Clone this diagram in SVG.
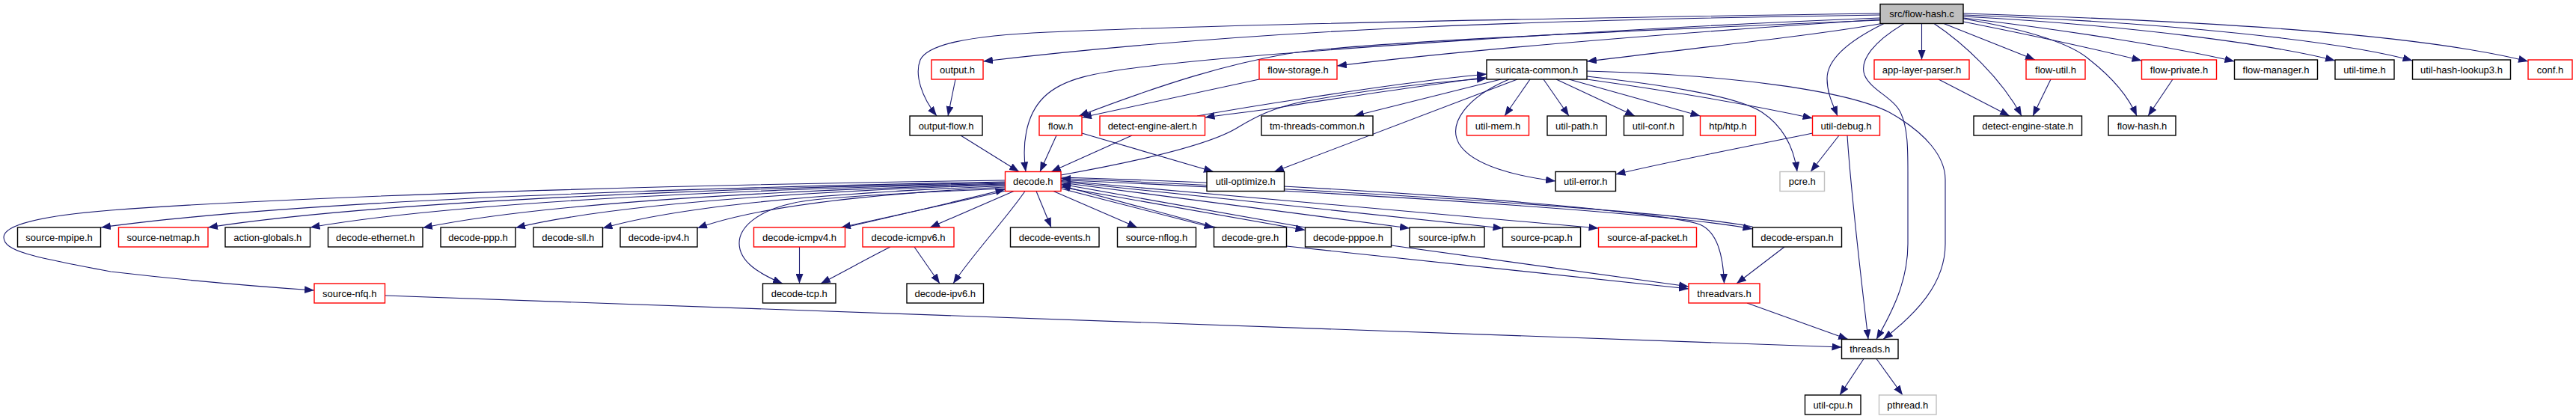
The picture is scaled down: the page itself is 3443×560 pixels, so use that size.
<svg xmlns="http://www.w3.org/2000/svg" width="3443" height="560" viewBox="0 0 3443 560">
<style>
.n rect{fill:#fff;stroke:#000;stroke-width:1.4}
.r rect{stroke:#ff0000}
.g rect{stroke:#bfbfbf}
.root rect{fill:#bfbfbf}
text{font-family:"Liberation Sans",Arial,Helvetica,sans-serif;font-size:13px;text-anchor:middle;fill:#000}
#edges path{fill:none;stroke:#191970;stroke-width:1.1;marker-end:url(#ah)}
</style>
<defs>
<marker id="ah" viewBox="0 0 13 10" refX="13" refY="5" markerWidth="13" markerHeight="10" markerUnits="userSpaceOnUse" orient="auto"><path d="M0,0 L13,5 L0,10 z" fill="#191970"/></marker>
</defs>
<rect width="3443" height="560" fill="#fff"/>
<g id="edges">
<path d="M2513,18 C2100,24 1650,32 1400,43 C1290,48 1240,60 1230,80 C1222,100 1232,130 1252,155"/>
<path d="M2513,20 C2100,26 1700,36 1314,82"/>
<path d="M2513,24 C2150,38 1700,70 1547,87 C1460,97 1420,105 1395,130 C1370,155 1366,195 1371,229.5"/>
<path d="M2513,27 C2150,42 1800,58 1720,72 C1640,86 1560,110 1442,155"/>
<path d="M2513,26 C2300,40 2000,62 1787,88"/>
<path d="M2515,31.5 C2420,48 2260,65 2121,82"/>
<path d="M2518,31.5 C2470,55 2442,80 2442,105 C2442,125 2450,140 2456,155"/>
<path d="M2545,31.5 C2505,55 2485,80 2492,100 C2500,120 2530,130 2540,150 C2550,170 2550,200 2550,230 L2550,326 C2550,375 2530,415 2508,453.5"/>
<path d="M2568.5,31.5 L2568.5,80"/>
<path d="M2585,31.5 C2625,58 2675,105 2702,155"/>
<path d="M2598,31.5 L2720,80"/>
<path d="M2624,29 C2720,48 2810,68 2862.5,81"/>
<path d="M2624,25 C2700,38 2765,55 2793,80 C2825,105 2845,130 2856,155"/>
<path d="M2624,24 C2760,40 2900,62 2986.5,82"/>
<path d="M2624,22 C2850,34 3040,60 3121,81"/>
<path d="M2624,20 C2900,30 3130,55 3224.5,81"/>
<path d="M2624,18 C2950,28 3230,45 3379,82"/>
<path d="M2006,106 L1810,155"/>
<path d="M2045,106 L2011,155"/>
<path d="M2063,106 L2097,155"/>
<path d="M2080,106 L2185,155"/>
<path d="M2097,106 L2272.5,155"/>
<path d="M2121,106 C2220,120 2330,138 2422.5,158"/>
<path d="M2121,102 C2210,112 2320,127 2355,150 C2385,170 2398,200 2402,229.5"/>
<path d="M2121,95 C2320,100 2470,122 2525,150 C2575,178 2600,210 2600,240 L2600,326 C2600,380 2560,420 2517,453.5"/>
<path d="M2017,106 C1960,130 1935,165 1950,192 C1968,222 2030,236 2079,242"/>
<path d="M2028,106 L1703,229.5"/>
<path d="M1987,103 C1880,118 1760,135 1720,142 C1680,149 1640,152 1610.5,157"/>
<path d="M1600,155 C1650,146 1700,138 1740,132 C1830,118 1910,106 1987,99"/>
<path d="M1418,234 C1530,214 1620,192 1655,170 C1680,155 1700,145 1740,136 C1830,120 1910,110 1987,105"/>
<path d="M1683,106 L1446,157"/>
<path d="M1412,181 L1390,229.5"/>
<path d="M1446,178 L1622,229.5"/>
<path d="M1513,181 L1405,229.5"/>
<path d="M1284,181 L1362,229.5"/>
<path d="M1277,106 L1267,155"/>
<path d="M2591,106 L2686,155"/>
<path d="M2741,106 L2717,155"/>
<path d="M2904,106 L2871,155"/>
<path d="M2458,181 L2420,229.5"/>
<path d="M2422.5,178 C2330,197 2230,216 2159.5,233"/>
<path d="M2469,181 C2474,260 2486,360 2497,453.5"/>
<path d="M2335,405 L2470,453.5"/>
<path d="M514.5,395 L2461.5,464"/>
<path d="M2491,479.5 L2459,528"/>
<path d="M2508,479.5 L2543,528"/>
<path d="M2385,330 L2321,379"/>
<path d="M1719.5,329 L2257,386"/>
<path d="M1859.5,328 L2257,383"/>
<path d="M1190,330 C1160,345 1130,362 1097,379"/>
<path d="M1222,330 L1256,379"/>
<path d="M1068.5,330 L1068.5,379"/>
<path d="M1343.5,241 C900,247 400,262 148,281 C60,288 5,300 5,317 C5,335 40,343 148,363 C260,376 360,384 420,388"/>
<path d="M1343.5,243 C860.1,252.2 376.7,270.5 135,304"/>
<path d="M1343.5,244 C917.3,253 491.1,271 278,304"/>
<path d="M1343.5,245 C971.9,253.9 600.3,271.6 414.5,304"/>
<path d="M1343.5,246 C1032.1,254.8 720.7,272.3 565,304.5"/>
<path d="M1343.5,247 C1081.7,255.6 819.9,272.9 689,304.5"/>
<path d="M1343.5,248.5 C1128.3,257 913.1,273.9 805.5,305"/>
<path d="M1343.5,250 C1178.9,258.3 1014.3,274.8 932,305"/>
<path d="M1344,255 C1270,272 1180,292 1124,304"/>
<path d="M1129,304 C1190,290 1275,270 1343.5,253"/>
<path d="M1345,252 C1200,258 1090,264 1062,271 C1010,282 988,305 988,325 C988,350 1015,366 1046,379"/>
<path d="M1355,255.5 L1243,304"/>
<path d="M1370,255.5 C1345,292 1300,340 1274,379"/>
<path d="M1385,255.5 L1405,304"/>
<path d="M1408,255.5 L1520,304"/>
<path d="M1418,252 L1622.5,304.5"/>
<path d="M1626,304 L1418,248"/>
<path d="M1418,250 L1744.5,307.5"/>
<path d="M1744.5,304 L1418,246"/>
<path d="M1418,244 L1884,305"/>
<path d="M1418,242.5 L2008.5,305"/>
<path d="M1418,241.5 L2136.5,305"/>
<path d="M1418,240.5 C1900,262 2250,288 2342.5,306"/>
<path d="M2342.5,303 C2250,285 1900,259 1418,238.5"/>
<path d="M1418,237 C1850,250 2220,282 2272,300 C2295,310 2303,340 2304.5,379"/>
</g>
<g id="n_src" class="n root"><rect x="2513" y="5.5" width="111" height="26"/><text x="2568.5" y="23">src/flow-hash.c</text></g>
<g id="n_output" class="n r"><rect x="1245" y="80" width="69" height="26"/><text x="1279.5" y="97.5">output.h</text></g>
<g id="n_flow_storage" class="n r"><rect x="1683" y="80" width="104" height="26"/><text x="1735" y="97.5">flow-storage.h</text></g>
<g id="n_suricata_common" class="n"><rect x="1987" y="80" width="134" height="26"/><text x="2054" y="97.5">suricata-common.h</text></g>
<g id="n_app_layer_parser" class="n r"><rect x="2505" y="80" width="127" height="26"/><text x="2568.5" y="97.5">app-layer-parser.h</text></g>
<g id="n_flow_util" class="n r"><rect x="2708" y="80" width="79" height="26"/><text x="2747.5" y="97.5">flow-util.h</text></g>
<g id="n_flow_private" class="n r"><rect x="2862.5" y="80" width="100" height="26"/><text x="2912.5" y="97.5">flow-private.h</text></g>
<g id="n_flow_manager" class="n"><rect x="2986.5" y="80" width="111" height="26"/><text x="3042" y="97.5">flow-manager.h</text></g>
<g id="n_util_time" class="n"><rect x="3121" y="80" width="79" height="26"/><text x="3160.5" y="97.5">util-time.h</text></g>
<g id="n_util_hash_lookup3" class="n"><rect x="3224.5" y="80" width="131" height="26"/><text x="3290" y="97.5">util-hash-lookup3.h</text></g>
<g id="n_conf" class="n r"><rect x="3379" y="80" width="59" height="26"/><text x="3408.5" y="97.5">conf.h</text></g>
<g id="n_output_flow" class="n"><rect x="1216" y="155" width="97" height="26"/><text x="1264.5" y="172.5">output-flow.h</text></g>
<g id="n_flow" class="n r"><rect x="1389" y="155" width="57" height="26"/><text x="1417.5" y="172.5">flow.h</text></g>
<g id="n_detect_engine_alert" class="n r"><rect x="1470" y="155" width="140.5" height="26"/><text x="1540.25" y="172.5">detect-engine-alert.h</text></g>
<g id="n_tm_threads_common" class="n"><rect x="1686" y="155" width="149" height="26"/><text x="1760.5" y="172.5">tm-threads-common.h</text></g>
<g id="n_util_mem" class="n r"><rect x="1960.5" y="155" width="83" height="26"/><text x="2002" y="172.5">util-mem.h</text></g>
<g id="n_util_path" class="n"><rect x="2068" y="155" width="79" height="26"/><text x="2107.5" y="172.5">util-path.h</text></g>
<g id="n_util_conf" class="n"><rect x="2170.5" y="155" width="79" height="26"/><text x="2210" y="172.5">util-conf.h</text></g>
<g id="n_htp" class="n r"><rect x="2272.5" y="155" width="74" height="26"/><text x="2309.5" y="172.5">htp/htp.h</text></g>
<g id="n_util_debug" class="n r"><rect x="2422.5" y="155" width="90" height="26"/><text x="2467.5" y="172.5">util-debug.h</text></g>
<g id="n_detect_engine_state" class="n"><rect x="2638" y="155" width="144.5" height="26"/><text x="2710.25" y="172.5">detect-engine-state.h</text></g>
<g id="n_flow_hash" class="n"><rect x="2818" y="155" width="90" height="26"/><text x="2863" y="172.5">flow-hash.h</text></g>
<g id="n_decode" class="n r"><rect x="1343.5" y="229.5" width="74.5" height="26"/><text x="1380.75" y="247">decode.h</text></g>
<g id="n_util_optimize" class="n"><rect x="1613" y="229.5" width="103.5" height="26"/><text x="1664.75" y="247">util-optimize.h</text></g>
<g id="n_util_error" class="n"><rect x="2079" y="229.5" width="80.5" height="26"/><text x="2119.25" y="247">util-error.h</text></g>
<g id="n_pcre" class="n g"><rect x="2379" y="229.5" width="59.5" height="26"/><text x="2408.75" y="247">pcre.h</text></g>
<g id="n_source_mpipe" class="n"><rect x="23.5" y="304" width="111" height="26"/><text x="79" y="321.5">source-mpipe.h</text></g>
<g id="n_source_netmap" class="n r"><rect x="158.5" y="304" width="119.5" height="26"/><text x="218.25" y="321.5">source-netmap.h</text></g>
<g id="n_action_globals" class="n"><rect x="301" y="304" width="113.5" height="26"/><text x="357.75" y="321.5">action-globals.h</text></g>
<g id="n_decode_ethernet" class="n"><rect x="438.5" y="304" width="126.5" height="26"/><text x="501.75" y="321.5">decode-ethernet.h</text></g>
<g id="n_decode_ppp" class="n"><rect x="589" y="304" width="100" height="26"/><text x="639" y="321.5">decode-ppp.h</text></g>
<g id="n_decode_sll" class="n"><rect x="713" y="304" width="92.5" height="26"/><text x="759.25" y="321.5">decode-sll.h</text></g>
<g id="n_decode_ipv4" class="n"><rect x="829" y="304" width="103" height="26"/><text x="880.5" y="321.5">decode-ipv4.h</text></g>
<g id="n_decode_icmpv4" class="n r"><rect x="1007.5" y="304" width="122" height="26"/><text x="1068.5" y="321.5">decode-icmpv4.h</text></g>
<g id="n_decode_icmpv6" class="n r"><rect x="1153" y="304" width="122" height="26"/><text x="1214" y="321.5">decode-icmpv6.h</text></g>
<g id="n_decode_events" class="n"><rect x="1350.5" y="304" width="118.5" height="26"/><text x="1409.75" y="321.5">decode-events.h</text></g>
<g id="n_source_nflog" class="n"><rect x="1493.5" y="304" width="105" height="26"/><text x="1546" y="321.5">source-nflog.h</text></g>
<g id="n_decode_gre" class="n"><rect x="1622.5" y="304" width="97" height="26"/><text x="1671" y="321.5">decode-gre.h</text></g>
<g id="n_decode_pppoe" class="n"><rect x="1744.5" y="304" width="115" height="26"/><text x="1802" y="321.5">decode-pppoe.h</text></g>
<g id="n_source_ipfw" class="n"><rect x="1884" y="304" width="100" height="26"/><text x="1934" y="321.5">source-ipfw.h</text></g>
<g id="n_source_pcap" class="n"><rect x="2008.5" y="304" width="104" height="26"/><text x="2060.5" y="321.5">source-pcap.h</text></g>
<g id="n_source_af_packet" class="n r"><rect x="2136.5" y="304" width="131" height="26"/><text x="2202" y="321.5">source-af-packet.h</text></g>
<g id="n_decode_erspan" class="n"><rect x="2342.5" y="304" width="119" height="26"/><text x="2402" y="321.5">decode-erspan.h</text></g>
<g id="n_source_nfq" class="n r"><rect x="420" y="379" width="94.5" height="26"/><text x="467.25" y="396.5">source-nfq.h</text></g>
<g id="n_decode_tcp" class="n"><rect x="1019.5" y="379" width="97.5" height="26"/><text x="1068.25" y="396.5">decode-tcp.h</text></g>
<g id="n_decode_ipv6" class="n"><rect x="1212" y="379" width="102.5" height="26"/><text x="1263.25" y="396.5">decode-ipv6.h</text></g>
<g id="n_threadvars" class="n r"><rect x="2257" y="379" width="95" height="26"/><text x="2304.5" y="396.5">threadvars.h</text></g>
<g id="n_threads" class="n"><rect x="2461.5" y="453.5" width="75.5" height="26"/><text x="2499.25" y="471">threads.h</text></g>
<g id="n_util_cpu" class="n"><rect x="2412.5" y="528" width="74.5" height="26"/><text x="2449.75" y="545.5">util-cpu.h</text></g>
<g id="n_pthread" class="n g"><rect x="2511.5" y="528" width="76.5" height="26"/><text x="2549.75" y="545.5">pthread.h</text></g>
</svg>
